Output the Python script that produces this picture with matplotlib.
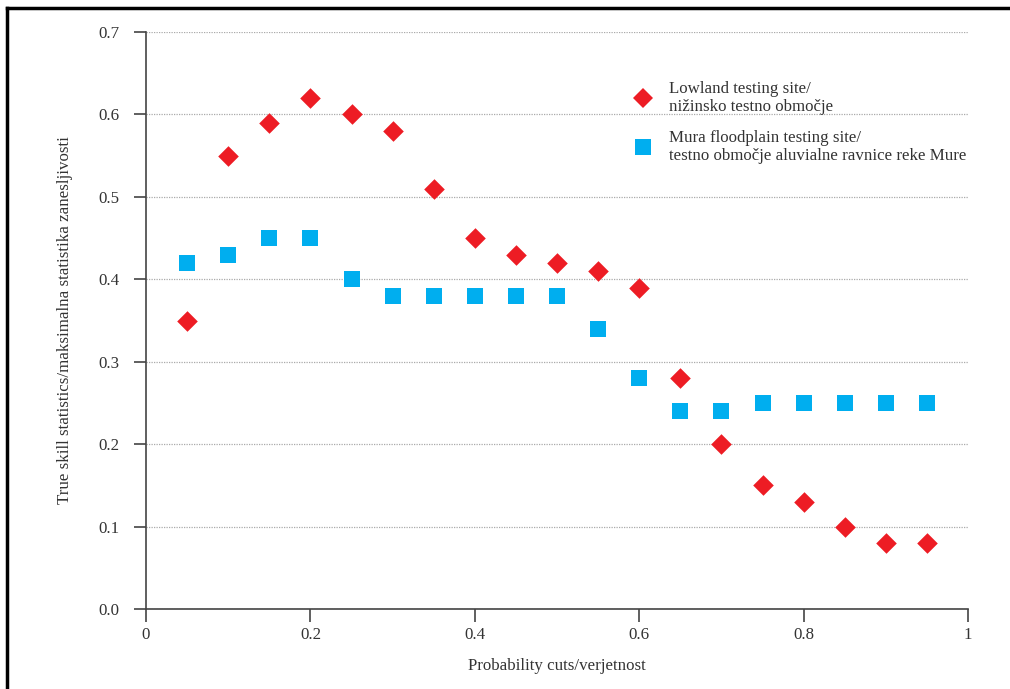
import numpy as np
import matplotlib.pyplot as plt
from matplotlib.lines import Line2D

# Podatki (odčitani s slike)
cuts = [0.05, 0.10, 0.15, 0.20, 0.25, 0.30, 0.35, 0.40, 0.45, 0.50,
        0.55, 0.60, 0.65, 0.70, 0.75, 0.80, 0.85, 0.90, 0.95]
lowland = [0.35, 0.55, 0.59, 0.62, 0.60, 0.58, 0.51, 0.45, 0.43, 0.42,
           0.41, 0.39, 0.28, 0.20, 0.15, 0.13, 0.10, 0.08, 0.08]
mura = [0.42, 0.43, 0.45, 0.45, 0.40, 0.38, 0.38, 0.38, 0.38, 0.38,
        0.34, 0.28, 0.24, 0.24, 0.25, 0.25, 0.25, 0.25, 0.25]

x_ticks = [0, 0.2, 0.4, 0.6, 0.8, 1.0]
x_labels = ["0", "0.2", "0.4", "0.6", "0.8", "1"]
y_ticks = [0.0, 0.1, 0.2, 0.3, 0.4, 0.5, 0.6, 0.7]

label_low = "Lowland testing site/\nnižinsko testno območje"
label_mura = "Mura floodplain testing site/\ntestno območje aluvialne ravnice reke Mure"

RED = "#ed1c24"
BLUE = "#00aeef"
AXC = "#444444"
TXT = "#333333"
FS = 12.2

plt.rcParams["font.family"] = ["Liberation Serif", "DejaVu Serif"]

fig = plt.figure(figsize=(10.10, 6.89), dpi=100)
ax = fig.add_axes([146 / 1010, 1 - 609 / 689, (968 - 146) / 1010, (609 - 32) / 689])

ax.scatter(cuts, lowland, marker="D", s=110, color=RED, linewidths=0, zorder=3)
ax.scatter(cuts, mura, marker="s", s=130, color=BLUE, linewidths=0, zorder=3)

ax.set_xlim(0, 1)
ax.set_ylim(0, 0.7)
ax.set_xticks(x_ticks)
ax.set_xticklabels(x_labels)
ax.set_yticks(y_ticks)
ax.set_yticklabels([f"{v:.1f}" for v in y_ticks])

for s in ["top", "right"]:
    ax.spines[s].set_visible(False)
for s in ["left", "bottom"]:
    ax.spines[s].set_color(AXC)
    ax.spines[s].set_linewidth(1.2)

ax.tick_params(axis="both", colors=AXC, labelcolor=TXT, labelsize=FS,
               length=9, width=1.2, direction="out")
ax.tick_params(axis="x", pad=4)
ax.tick_params(axis="y", pad=10)

ax.yaxis.grid(True, linestyle=(0, (1, 1)), color="#aaaaaa", linewidth=0.9)
ax.set_axisbelow(True)

ax.set_xlabel("Probability cuts/verjetnost", fontsize=FS, color=TXT, labelpad=11)
ax.set_ylabel("True skill statistics/maksimalna statistika zanesljivosti",
              fontsize=FS, color=TXT, labelpad=18)

handles = [
    Line2D([], [], marker="D", linestyle="none", markersize=10, color=RED, markeredgewidth=0),
    Line2D([], [], marker="s", linestyle="none", markersize=11, color=BLUE, markeredgewidth=0),
]
ax.legend(handles, [label_low, label_mura], loc="upper left",
          bbox_to_anchor=(0.566, 0.942), frameon=False, fontsize=FS,
          handletextpad=0.5, labelspacing=0.85, labelcolor=TXT)

# okvir slike (vidna sta le zgornji in levi rob)
fig.add_artist(Line2D([6.5 / 1010, 1.0], [1 - 7.5 / 689, 1 - 7.5 / 689],
                      transform=fig.transFigure, color="black", linewidth=2.5))
fig.add_artist(Line2D([6.5 / 1010, 6.5 / 1010], [0.0, 1 - 7.5 / 689],
                      transform=fig.transFigure, color="black", linewidth=2.5))

fig.savefig("out.png", dpi=100)
